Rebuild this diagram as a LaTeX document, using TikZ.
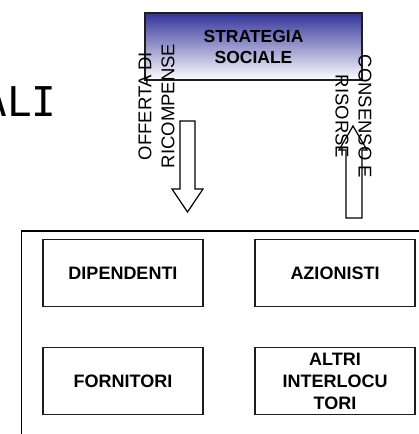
\documentclass[tikz,border=0pt]{standalone}
\usepackage{fontspec}
\setmainfont{Liberation Sans}
\newfontfamily\monofont{DejaVu Sans Mono}
\definecolor{stratblue}{RGB}{51,51,153}
\definecolor{edgegray}{RGB}{30,30,30}
\begin{document}
\begin{tikzpicture}[x=1pt,y=-1pt,
  stakebox/.style={draw=edgegray, line width=1.3pt, minimum width=160pt, minimum height=67pt,
    inner sep=0pt, align=center, font=\bfseries\fontsize{18}{22}\selectfont},
  sidelabel/.style={align=center, inner sep=0pt, font=\fontsize{18.5}{23}\selectfont},
  blockarrow/.style={draw=black, line width=1.2pt, line join=miter}]
\useasboundingbox (0,0) rectangle (419,434);
\clip (0,0) rectangle (419,434);

% heading fragment on the left
\node[inner sep=0pt, font=\monofont\fontsize{41}{41}\selectfont] (title) at (19.5,101.5) {ALI};

% strategy box with blue gradient
\node[draw=edgegray, line width=1.3pt, minimum width=217pt, minimum height=67pt,
  top color=stratblue, bottom color=white, inner sep=0pt] (strat) at (253.5,46.5) {};
\node[align=center, inner sep=0pt, font=\bfseries\fontsize{17.5}{21}\selectfont] (strattext) at (strat) {STRATEGIA\\SOCIALE};

% outer frame of the stakeholders
\draw[line width=1.5pt] (440,231) -- (21.5,231) -- (21.5,450);

% stakeholder boxes
\node[stakebox] (dip) at (123,273) {DIPENDENTI};
\node[stakebox] (azi) at (335,273) {AZIONISTI};
\node[stakebox] (forn) at (123,381) {FORNITORI};
\node[stakebox] (altri) at (335,381) {ALTRI\\INTERLOCU\\TORI};

% block arrows: rewards down, consensus and resources up
\draw[blockarrow] (180,121) -- (195,121) -- (195,189) -- (203,189) -- (187.5,212)
  -- (172,189) -- (180,189) -- cycle;
\draw[blockarrow] (346,218) -- (362,218) -- (362,150) -- (367,150) -- (353,126)
  -- (339,150) -- (346,150) -- cycle;

% rotated labels
\node[sidelabel, rotate=90] (offerta) at (156.5,106) {OFFERTA DI\\RICOMPENSE};
\node[sidelabel, rotate=-90] (consenso) at (353.5,116.5) {CONSENSO E\\RISORSE};
\end{tikzpicture}
\end{document}
